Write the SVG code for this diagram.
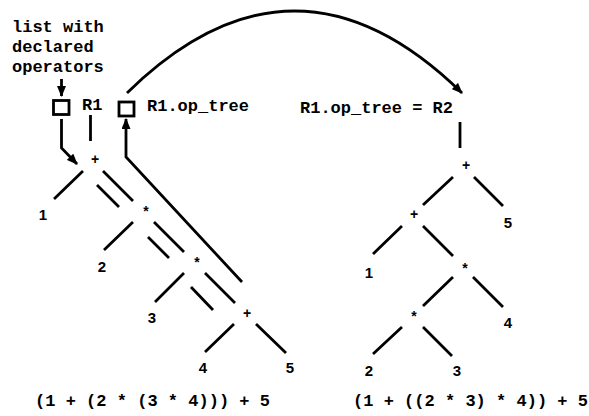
<svg xmlns="http://www.w3.org/2000/svg" width="589" height="416" viewBox="0 0 589 416">
<style>
.t{font-family:"Liberation Mono","Courier New",monospace;font-weight:bold;font-size:17px;fill:#000}
.d{font-family:"Liberation Sans",Arial,sans-serif;font-weight:bold;font-size:15px;fill:#000;text-anchor:middle}
.o{font-family:"Liberation Sans",Arial,sans-serif;font-weight:bold;font-size:14px;fill:#000;text-anchor:middle}
.e{stroke:#000;stroke-width:2.8;fill:none;stroke-linecap:butt}
.box{stroke:#000;stroke-width:2.8;fill:#fff}
</style>
<defs>
<marker id="ah" markerUnits="userSpaceOnUse" markerWidth="11" markerHeight="9" refX="10" refY="4.5" orient="auto">
<path d="M0,0 L11,4.5 L0,9 z" fill="#000"/>
</marker>
</defs>
<rect width="589" height="416" fill="#fff"/>

<g id="label-list">
<text class="t" x="12" y="31.5">list with</text>
<text class="t" x="12" y="52">declared</text>
<text class="t" x="12" y="72">operators</text>
</g>
<g id="box1"><rect class="box" x="53.5" y="100.5" width="15.5" height="14"/></g>
<g id="R1"><text class="t" x="82" y="110">R1</text></g>
<g id="box2"><rect class="box" x="119" y="102" width="15" height="14"/></g>
<g id="R1-op-tree"><text class="t" x="147" y="111">R1.op_tree</text></g>
<g id="R2-label"><text class="t" x="300" y="113">R1.op_tree = R2</text></g>

<g id="connectors">
<path class="e" d="M61.5,79 L61.5,96" marker-end="url(#ah)"/>
<path class="e" d="M61.5,119 L61.5,148 L77,164" marker-end="url(#ah)"/>
<path class="e" d="M90.5,115 L90.5,141"/>
<path class="e" d="M242,282 L126,157 L126,119" marker-end="url(#ah)"/>
<path class="e" d="M127,93 Q294.5,-71 462,93" marker-end="url(#ah)"/>
<path class="e" d="M460,122 L460,148"/>
<path class="e" d="M83,171 L54,199 M103,171 L133,201 M97,185 L119,207"/>
<path class="e" d="M133,222 L104,250 M154,222 L184,252 M148,237 L169,258"/>
<path class="e" d="M184,273 L155,302 M205,273 L235,303 M191,287 L213,310"/>
<path class="e" d="M234,324 L205,352 M256,324 L286,353"/>
<path class="e" d="M453,177 L423,205 M474,177 L503,206"/>
<path class="e" d="M402,226 L373,254 M423,226 L453,256"/>
<path class="e" d="M453,277 L423,306 M473,277 L503,307"/>
<path class="e" d="M402,327 L373,354 M423,327 L452,356"/>
</g>

<g id="L-plus1"><text class="o" x="95" y="164">+</text></g>
<g id="L-star1"><text class="o" x="146" y="216">*</text></g>
<g id="L-star2"><text class="o" x="197" y="267">*</text></g>
<g id="L-plus2"><text class="o" x="247" y="318">+</text></g>
<g id="L-1"><text class="d" x="43" y="220">1</text></g>
<g id="L-2"><text class="d" x="102" y="272">2</text></g>
<g id="L-3"><text class="d" x="152" y="323">3</text></g>
<g id="L-4"><text class="d" x="203" y="373">4</text></g>
<g id="L-5"><text class="d" x="290" y="373">5</text></g>

<g id="R-plus1"><text class="o" x="466" y="170">+</text></g>
<g id="R-plus2"><text class="o" x="414" y="219">+</text></g>
<g id="R-star1"><text class="o" x="465" y="273">*</text></g>
<g id="R-star2"><text class="o" x="414" y="321">*</text></g>
<g id="R-5"><text class="d" x="508" y="228">5</text></g>
<g id="R-1"><text class="d" x="369" y="278">1</text></g>
<g id="R-4"><text class="d" x="508" y="328">4</text></g>
<g id="R-2"><text class="d" x="369" y="376">2</text></g>
<g id="R-3"><text class="d" x="457" y="376">3</text></g>

<g id="expr-left"><text class="t" x="35" y="406" textLength="235" lengthAdjust="spacing">(1 + (2 * (3 * 4))) + 5</text></g>
<g id="expr-right"><text class="t" x="353" y="406" textLength="235" lengthAdjust="spacing">(1 + ((2 * 3) * 4)) + 5</text></g>
</svg>
